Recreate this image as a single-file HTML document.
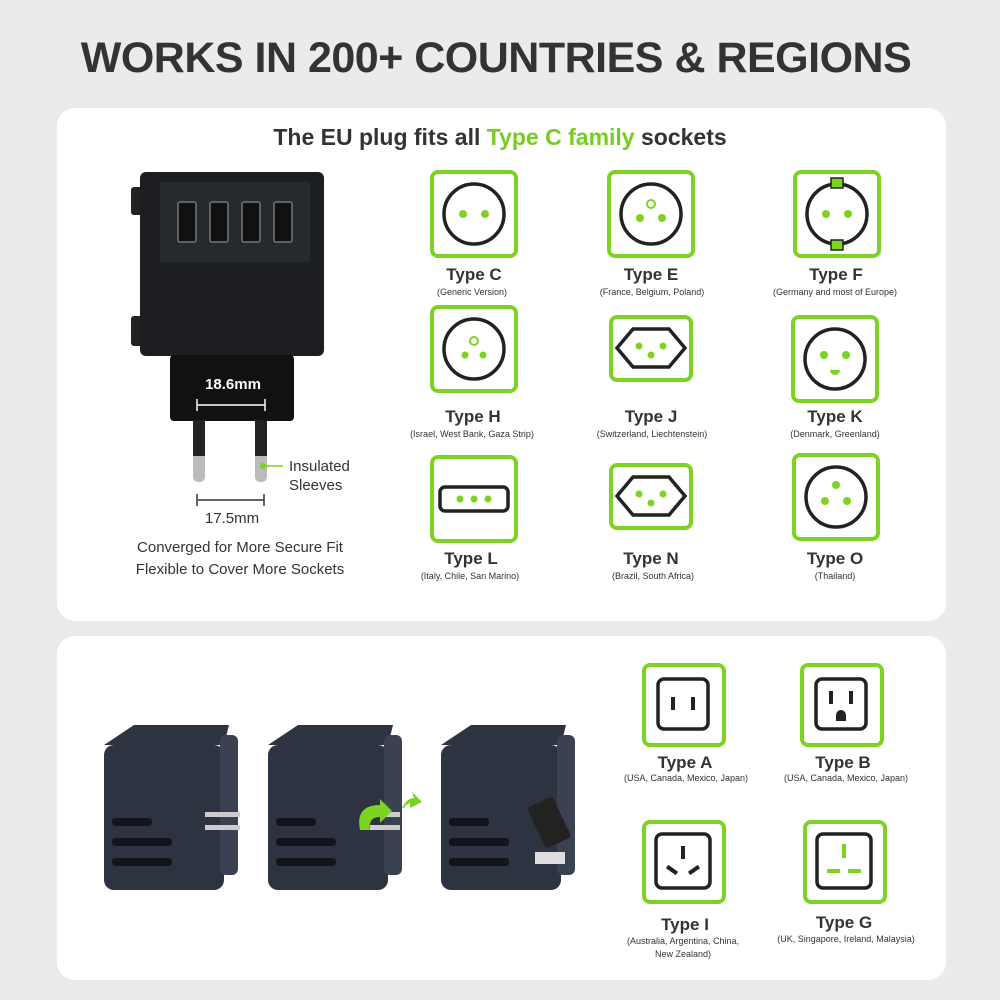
<!DOCTYPE html>
<html><head><meta charset="utf-8"><style>
*{margin:0;padding:0;box-sizing:border-box}
body{width:1000px;height:1000px;background:#eaebed;font-family:"Liberation Sans",sans-serif;color:#333;position:relative;overflow:hidden}
.t{position:absolute;white-space:nowrap;text-align:center;transform:translateX(-50%)}
.card{position:absolute;left:57px;width:889px;background:#fff;border-radius:18px}
.lb{font-size:17px;font-weight:bold;color:#333}
.sb{font-size:9px;color:#333}
</style></head><body>
<div class="t" style="left:496px;top:34px;font-size:43px;font-weight:bold;color:#333;letter-spacing:-0.5px">WORKS IN 200+ COUNTRIES &amp; REGIONS</div>
<div class="card" style="top:108px;height:513px"></div>
<div class="card" style="top:636px;height:344px"></div>
<div class="t" style="left:500px;top:124px;font-size:23px;font-weight:bold;color:#333">The EU plug fits all <span style="color:#77cc22">Type C family</span> sockets</div>

<svg width="1000" height="1000" style="position:absolute;left:0;top:0">
<defs>
<g id="bx"><rect x="2" y="2" width="84" height="84" rx="6" fill="#fff" stroke="#7dd321" stroke-width="4"/></g>
</defs>
<g transform="translate(430,170)"><use href="#bx"/><circle cx="44" cy="44" r="30" fill="none" stroke="#222" stroke-width="3.5"/><circle cx="33" cy="44" r="4" fill="#7dd321"/><circle cx="55" cy="44" r="4" fill="#7dd321"/></g>
<g transform="translate(607,170)"><use href="#bx"/><circle cx="44" cy="44" r="30" fill="none" stroke="#222" stroke-width="3.5"/><circle cx="33" cy="48" r="4" fill="#7dd321"/><circle cx="55" cy="48" r="4" fill="#7dd321"/><circle cx="44" cy="34" r="4" fill="none" stroke="#7dd321" stroke-width="2"/></g>
<g transform="translate(793,170)"><use href="#bx"/><circle cx="44" cy="44" r="30" fill="none" stroke="#222" stroke-width="3.5"/><circle cx="33" cy="44" r="4" fill="#7dd321"/><circle cx="55" cy="44" r="4" fill="#7dd321"/><rect x="38" y="8" width="12" height="10" fill="#7dd321" stroke="#222" stroke-width="1.5"/><rect x="38" y="70" width="12" height="10" fill="#7dd321" stroke="#222" stroke-width="1.5"/></g>
<g transform="translate(430,305)"><use href="#bx"/><circle cx="44" cy="44" r="30" fill="none" stroke="#222" stroke-width="3.5"/><circle cx="35" cy="50" r="3.5" fill="#7dd321"/><circle cx="53" cy="50" r="3.5" fill="#7dd321"/><circle cx="44" cy="36" r="4" fill="none" stroke="#7dd321" stroke-width="2"/></g>
<g transform="translate(609,315)"><rect x="2" y="2" width="80" height="63" rx="6" fill="#fff" stroke="#7dd321" stroke-width="4"/><polygon points="8,33 24,14 60,14 76,33 60,52 24,52" fill="none" stroke="#222" stroke-width="3.5"/><circle cx="30" cy="31" r="3.5" fill="#7dd321"/><circle cx="54" cy="31" r="3.5" fill="#7dd321"/><circle cx="42" cy="40" r="3.5" fill="#7dd321"/></g>
<g transform="translate(791,315)"><use href="#bx"/><circle cx="44" cy="44" r="30" fill="none" stroke="#222" stroke-width="3.5"/><circle cx="33" cy="40" r="4" fill="#7dd321"/><circle cx="55" cy="40" r="4" fill="#7dd321"/><path d="M39 55 h10 a5 5 0 0 1 -10 0z" fill="#7dd321"/></g>
<g transform="translate(430,455)"><use href="#bx"/><rect x="10" y="32" width="68" height="24" rx="5" fill="none" stroke="#222" stroke-width="3.5"/><circle cx="30" cy="44" r="3.5" fill="#7dd321"/><circle cx="44" cy="44" r="3.5" fill="#7dd321"/><circle cx="58" cy="44" r="3.5" fill="#7dd321"/></g>
<g transform="translate(609,463)"><rect x="2" y="2" width="80" height="63" rx="6" fill="#fff" stroke="#7dd321" stroke-width="4"/><polygon points="8,33 24,14 60,14 76,33 60,52 24,52" fill="none" stroke="#222" stroke-width="3.5"/><circle cx="30" cy="31" r="3.5" fill="#7dd321"/><circle cx="54" cy="31" r="3.5" fill="#7dd321"/><circle cx="42" cy="40" r="3.5" fill="#7dd321"/></g>
<g transform="translate(792,453)"><use href="#bx"/><circle cx="44" cy="44" r="30" fill="none" stroke="#222" stroke-width="3.5"/><circle cx="33" cy="48" r="4" fill="#7dd321"/><circle cx="55" cy="48" r="4" fill="#7dd321"/><circle cx="44" cy="32" r="4" fill="#7dd321"/></g>
<g transform="translate(642,663)"><rect x="2" y="2" width="80" height="80" rx="6" fill="#fff" stroke="#7dd321" stroke-width="4"/><rect x="16" y="16" width="50" height="50" rx="6" fill="none" stroke="#222" stroke-width="3.5"/><rect x="29" y="34" width="4" height="13" fill="#222"/><rect x="49" y="34" width="4" height="13" fill="#222"/></g>
<g transform="translate(800,663)"><rect x="2" y="2" width="80" height="80" rx="6" fill="#fff" stroke="#7dd321" stroke-width="4"/><rect x="16" y="16" width="50" height="50" rx="6" fill="none" stroke="#222" stroke-width="3.5"/><rect x="29" y="28" width="4" height="13" fill="#222"/><rect x="49" y="28" width="4" height="13" fill="#222"/><path d="M36 58 v-6 a5 5 0 0 1 10 0 v6z" fill="#222"/></g>
<g transform="translate(642,820)"><rect x="2" y="2" width="80" height="80" rx="6" fill="#fff" stroke="#7dd321" stroke-width="4"/><rect x="14" y="14" width="54" height="54" rx="6" fill="none" stroke="#222" stroke-width="3.5"/><rect x="39" y="26" width="4" height="13" fill="#222"/><rect x="24" y="48" width="12" height="4" fill="#222" transform="rotate(35 30 50)"/><rect x="46" y="48" width="12" height="4" fill="#222" transform="rotate(-35 52 50)"/></g>
<g transform="translate(803,820)"><rect x="2" y="2" width="80" height="80" rx="6" fill="#fff" stroke="#7dd321" stroke-width="4"/><rect x="14" y="14" width="54" height="54" rx="6" fill="none" stroke="#222" stroke-width="3.5"/><rect x="39" y="24" width="4" height="14" fill="#7dd321"/><rect x="24" y="49" width="13" height="4" fill="#7dd321"/><rect x="45" y="49" width="13" height="4" fill="#7dd321"/></g>

<rect x="131" y="187" width="12" height="28" rx="3" fill="#222"/>
<rect x="131" y="316" width="12" height="30" rx="3" fill="#222"/>
<rect x="140" y="172" width="184" height="184" rx="6" fill="#1c1e22"/>
<rect x="160" y="182" width="150" height="80" fill="#26292e"/>
<g fill="#111" stroke="#777" stroke-width="1.5"><rect x="178" y="202" width="18" height="40" rx="2"/><rect x="210" y="202" width="18" height="40" rx="2"/><rect x="242" y="202" width="18" height="40" rx="2"/><rect x="274" y="202" width="18" height="40" rx="2"/></g>
<rect x="170" y="355" width="124" height="66" rx="4" fill="#111"/>
<rect x="193" y="420" width="12" height="62" rx="5" fill="#bbb"/>
<rect x="193" y="420" width="12" height="36" fill="#222"/>
<rect x="255" y="420" width="12" height="62" rx="5" fill="#bbb"/>
<rect x="255" y="420" width="12" height="36" fill="#222"/>
<line x1="198" y1="405" x2="265" y2="405" stroke="#fff" stroke-width="1.5"/>
<line x1="197" y1="399" x2="197" y2="411" stroke="#fff" stroke-width="1.5"/>
<line x1="265" y1="399" x2="265" y2="411" stroke="#fff" stroke-width="1.5"/>
<line x1="198" y1="500" x2="264" y2="500" stroke="#333" stroke-width="1.5"/>
<line x1="197" y1="494" x2="197" y2="506" stroke="#333" stroke-width="1.5"/>
<line x1="264" y1="494" x2="264" y2="506" stroke="#333" stroke-width="1.5"/>
<circle cx="263" cy="466" r="3" fill="#7dd321"/>
<line x1="266" y1="466" x2="283" y2="466" stroke="#7dd321" stroke-width="1.5"/>

<g fill="#2d3340">
<path d="M104 745 l30 -20 h95 l-5 20z"/><rect x="104" y="745" width="120" height="145" rx="10"/><rect x="220" y="735" width="18" height="140" rx="6" fill="#3a4150"/>
<path d="M268 745 l30 -20 h95 l-5 20z"/><rect x="268" y="745" width="120" height="145" rx="10"/><rect x="384" y="735" width="18" height="140" rx="6" fill="#3a4150"/>
<path d="M441 745 l30 -20 h95 l-5 20z"/><rect x="441" y="745" width="120" height="145" rx="10"/><rect x="557" y="735" width="18" height="140" rx="6" fill="#3a4150"/>
</g>
<g fill="#12151b"><rect x="112" y="818" width="40" height="8" rx="3"/><rect x="112" y="838" width="60" height="8" rx="3"/><rect x="112" y="858" width="60" height="8" rx="3"/>
<rect x="276" y="818" width="40" height="8" rx="3"/><rect x="276" y="838" width="60" height="8" rx="3"/><rect x="276" y="858" width="60" height="8" rx="3"/>
<rect x="449" y="818" width="40" height="8" rx="3"/><rect x="449" y="838" width="60" height="8" rx="3"/><rect x="449" y="858" width="60" height="8" rx="3"/></g>
<g fill="#ccc"><rect x="205" y="812" width="35" height="5"/><rect x="205" y="825" width="35" height="5"/><rect x="370" y="812" width="30" height="5"/><rect x="370" y="825" width="30" height="5"/></g>
<rect x="535" y="800" width="28" height="45" rx="3" fill="#222" transform="rotate(-25 549 822)"/>
<rect x="535" y="852" width="30" height="12" fill="#ddd"/>
<path d="M360 830 q-5 -25 20 -25 l0 -6 l12 12 l-12 12 l0 -6 q-12 0 -10 13z" fill="#7dd321"/>
<path d="M402 808 q5 -10 12 -10 l-2 -6 l10 10 l-12 6 l0 -5 q-4 1 -6 5z" fill="#7dd321"/>
</svg>

<div class="t" style="left:233px;top:376px;font-size:15px;font-weight:bold;color:#fff">18.6mm</div>
<div class="t" style="left:232px;top:510px;font-size:15px">17.5mm</div>
<div style="position:absolute;left:289px;top:457px;font-size:15px;line-height:19px;color:#333">Insulated<br>Sleeves</div>
<div class="t" style="left:240px;top:537px;font-size:15px;line-height:22px">Converged for More Secure Fit<br>Flexible to Cover More Sockets</div>

<div class="t lb" style="left:474px;top:265px">Type C</div><div class="t sb" style="left:472px;top:287px">(Generic Version)</div>
<div class="t lb" style="left:651px;top:265px">Type E</div><div class="t sb" style="left:652px;top:287px">(France, Belgium, Poland)</div>
<div class="t lb" style="left:836px;top:265px">Type F</div><div class="t sb" style="left:835px;top:287px">(Germany and most of Europe)</div>
<div class="t lb" style="left:473px;top:407px">Type H</div><div class="t sb" style="left:472px;top:429px">(Israel, West Bank, Gaza Strip)</div>
<div class="t lb" style="left:651px;top:407px">Type J</div><div class="t sb" style="left:652px;top:429px">(Switzerland, Liechtenstein)</div>
<div class="t lb" style="left:835px;top:407px">Type K</div><div class="t sb" style="left:835px;top:429px">(Denmark, Greenland)</div>
<div class="t lb" style="left:471px;top:549px">Type L</div><div class="t sb" style="left:470px;top:571px">(Italy, Chile, San Marino)</div>
<div class="t lb" style="left:651px;top:549px">Type N</div><div class="t sb" style="left:653px;top:571px">(Brazil, South Africa)</div>
<div class="t lb" style="left:835px;top:549px">Type O</div><div class="t sb" style="left:835px;top:571px">(Thailand)</div>
<div class="t lb" style="left:685px;top:753px">Type A</div><div class="t sb" style="left:686px;top:773px">(USA, Canada, Mexico, Japan)</div>
<div class="t lb" style="left:843px;top:753px">Type B</div><div class="t sb" style="left:846px;top:773px">(USA, Canada, Mexico, Japan)</div>
<div class="t lb" style="left:685px;top:915px">Type I</div><div class="t sb" style="left:683px;top:935px;line-height:13px">(Australia, Argentina, China,<br>New Zealand)</div>
<div class="t lb" style="left:844px;top:913px">Type G</div><div class="t sb" style="left:846px;top:934px">(UK, Singapore, Ireland, Malaysia)</div>
</body></html>
